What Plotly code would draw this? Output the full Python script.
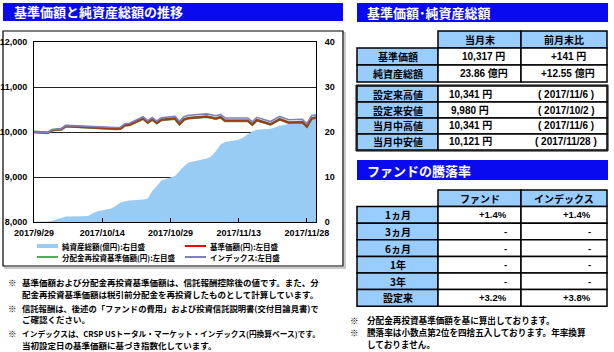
import plotly.graph_objects as go

W, H = 614, 352
def X(px):
    return px / W
def Y(py):
    return 1 - py / H

# ---------------- data ----------------
dates = [
    "2017-09-29", "2017-10-02", "2017-10-03", "2017-10-04", "2017-10-05", "2017-10-06",
    "2017-10-10", "2017-10-11", "2017-10-12", "2017-10-13",
    "2017-10-16", "2017-10-17", "2017-10-18", "2017-10-19", "2017-10-20",
    "2017-10-23", "2017-10-24", "2017-10-25", "2017-10-26", "2017-10-27",
    "2017-10-30", "2017-10-31", "2017-11-01", "2017-11-02",
    "2017-11-06", "2017-11-07", "2017-11-08", "2017-11-09", "2017-11-10",
    "2017-11-13", "2017-11-14", "2017-11-15", "2017-11-16", "2017-11-17",
    "2017-11-20", "2017-11-21", "2017-11-22", "2017-11-24",
    "2017-11-27", "2017-11-28", "2017-11-29", "2017-11-30",
]
nav = [
    10000, 9980, 10040, 10050, 10060, 10130,
    10110, 10095, 10100, 10080,
    10065, 10070, 10075, 10150, 10160,
    10300, 10210, 10280, 10200, 10270,
    10300, 10176, 10280, 10310,
    10341, 10315, 10300, 10330, 10250,
    10250, 10255, 10250, 10165, 10265,
    10170, 10230, 10285, 10210,
    10220, 10121, 10300, 10317,
]
nav_reinvested = [
    10000, 9980, 10040, 10050, 10060, 10130,
    10110, 10095, 10100, 10080,
    10065, 10070, 10075, 10150, 10160,
    10300, 10210, 10280, 10200, 10270,
    10300, 10176, 10280, 10310,
    10341, 10315, 10300, 10330, 10250,
    10250, 10255, 10250, 10165, 10265,
    10170, 10230, 10285, 10210,
    10220, 10121, 10300, 10317,
]
index_vals = [
    10000, 9986, 10050, 10062, 10074, 10148,
    10130, 10117, 10124, 10106,
    10093, 10100, 10107, 10184, 10196,
    10338, 10250, 10322, 10244, 10316,
    10348, 10237, 10341, 10372,
    10403, 10377, 10362, 10392, 10312,
    10312, 10317, 10312, 10227, 10327,
    10232, 10292, 10347, 10272,
    10282, 10183, 10362, 10380,
]
net_assets = [
    0.05, 0.1, 0.3, 0.6, 0.9, 1.2,
    1.3, 1.4, 2.0, 2.4,
    3.0, 3.6, 4.3, 4.6, 4.8,
    5.0, 5.2, 6.9, 8.0, 9.2,
    10.2, 11.31, 12.4, 13.2,
    14.1, 14.6, 15.8, 17.2, 17.8,
    18.3, 18.8, 19.5, 20.1, 20.5,
    20.7, 21.0, 21.4, 21.8,
    22.1, 22.3, 22.9, 23.86,
]

x_tick_vals = ["2017-09-29", "2017-10-14", "2017-10-29", "2017-11-13", "2017-11-28"]
x_tick_text = ["2017/9/29", "2017/10/14", "2017/10/29", "2017/11/13", "2017/11/28"]
left_ticks = [8000, 9000, 10000, 11000, 12000]
right_ticks = [0, 10, 20, 30, 40]

legend_labels = ["純資産総額(億円):右目盛", "基準価額(円):左目盛",
                 "分配金再投資基準価額(円):左目盛", "インデックス:左目盛"]

chart_title = "基準価額と純資産総額の推移"
table1_title = "基準価額･純資産総額"
table2_title = "ファンドの騰落率"

summary_header = ["当月末", "前月末比"]
summary_labels = ["基準価額", "純資産総額"]
summary_current = ["10,317 円", "23.86 億円"]
summary_change = ["+141 円", "+12.55 億円"]

extreme_labels = ["設定来高値", "設定来安値", "当月中高値", "当月中安値"]
extreme_values = ["10,341 円", "9,980 円", "10,341 円", "10,121 円"]
extreme_dates = ["( 2017/11/6 )", "( 2017/10/2 )", "( 2017/11/6 )", "( 2017/11/28 )"]

perf_header = ["ファンド", "インデックス"]
perf_periods = ["1ヵ月", "3ヵ月", "6ヵ月", "1年", "3年", "設定来"]
perf_fund = ["+1.4%", "-", "-", "-", "-", "+3.2%"]
perf_index = ["+1.4%", "-", "-", "-", "-", "+3.8%"]

left_notes = [
    ["基準価額および分配金再投資基準価額は、信託報酬控除後の値です。また、分",
     "配金再投資基準価額は税引前分配金を再投資したものとして計算しています。"],
    ["信託報酬は、後述の「ファンドの費用」および投資信託説明書(交付目論見書)で",
     "ご確認ください。"],
    ["インデックスは、CRSP USトータル・マーケット・インデックス(円換算ベース)です。",
     "当初設定日の基準価額に基づき指数化しています。"],
]
right_notes = [
    ["分配金再投資基準価額を基に算出しております。"],
    ["騰落率は小数点第2位を四捨五入しております。年率換算",
     "しておりません。"],
]

# ---------------- styles ----------------
FONT = "Liberation Sans, Noto Sans CJK JP"
JFONT = "Noto Sans CJK JP"
BLUE = "#0A0AF0"
CELL_BLUE = "#99CCFF"
AREA = "#99CCF5"
RED = "#FF0000"
GREEN = "#55A855"
PURPLE = "#7F7FC0"

fig = go.Figure()
fig.add_trace(go.Scatter(x=dates, y=net_assets, yaxis="y", mode="none", fill="tozeroy",
                         fillcolor=AREA, name=legend_labels[0], showlegend=False,
                         hoverinfo="skip"))
fig.add_trace(go.Scatter(x=dates, y=nav_reinvested, yaxis="y2", mode="lines",
                         line=dict(color=GREEN, width=2.8), name=legend_labels[2],
                         showlegend=False))
fig.add_trace(go.Scatter(x=dates, y=nav, yaxis="y2", mode="lines",
                         line=dict(color="#9A3E1C", width=2.2), name=legend_labels[1],
                         showlegend=False))
fig.add_trace(go.Scatter(x=dates, y=index_vals, yaxis="y2", mode="lines",
                         line=dict(color=PURPLE, width=1.6), name=legend_labels[3],
                         showlegend=False))

shapes = []
annotations = []

def rect(x0, y0, x1, y1, fill=None, lc="black", lw=1.5, layer="below"):
    shapes.append(dict(type="rect", xref="paper", yref="paper",
                       x0=X(x0), x1=X(x1), y0=Y(y1), y1=Y(y0),
                       fillcolor=fill if fill else "rgba(0,0,0,0)",
                       line=dict(color=lc, width=lw), layer=layer))

def text(x, y, s, size=10, color="black", anchor="center", bold=True, family=FONT):
    annotations.append(dict(xref="paper", yref="paper", x=X(x), y=Y(y), text=s,
                            showarrow=False, xanchor=anchor, yanchor="middle",
                            borderpad=0,
                            font=dict(size=size, color=color, family=family,
                                      weight="bold" if bold else "normal")))

# title bars
rect(3, 3, 343, 21, fill=BLUE, lw=0)
text(13, 12, chart_title, size=13, color="white", anchor="left", family=JFONT)
rect(357, 3, 608, 22, fill=BLUE, lw=0)
text(366, 12.5, table1_title, size=13, color="white", anchor="left", family=JFONT)
rect(357, 160, 608, 180, fill=BLUE, lw=0)
text(366, 170, table2_title, size=13, color="white", anchor="left", family=JFONT)

# chart frame
rect(5, 33, 345, 268, lc="#BBBBBB", lw=1.5)
rect(3, 31, 343, 266, fill="white", lc="black", lw=1.2)

# legend
lg_rows = [246, 257]
lg_cols = [37, 185]
shapes.append(dict(type="rect", xref="paper", yref="paper", x0=X(37), x1=X(58),
                   y0=Y(248), y1=Y(244), fillcolor=AREA, line=dict(width=0)))
for (col, row, colr) in [(1, 0, RED), (0, 1, GREEN), (1, 1, PURPLE)]:
    shapes.append(dict(type="line", xref="paper", yref="paper",
                       x0=X(lg_cols[col]), x1=X(lg_cols[col] + 21),
                       y0=Y(lg_rows[row]), y1=Y(lg_rows[row]),
                       line=dict(color=colr, width=2)))
for i, lab in enumerate(legend_labels):
    col, row = i % 2, i // 2
    text(lg_cols[col] + 24, lg_rows[row], lab, size=7.5, anchor="left", family=JFONT)

# table 1
c0, c1, c2, c3 = 357, 438, 521, 607
rh = 17
hdr_top = 31
for j, h in enumerate(summary_header):
    xa, xb = [(c1, c2), (c2, c3)][j]
    rect(xa, hdr_top, xb, hdr_top + rh, fill=CELL_BLUE)
    text((xa + xb) / 2, hdr_top + rh / 2, h, size=10, family=JFONT)
for i, lab in enumerate(summary_labels):
    y0 = hdr_top + rh * (i + 1)
    rect(c0, y0, c1, y0 + rh, fill=CELL_BLUE)
    rect(c1, y0, c2, y0 + rh, fill="white")
    rect(c2, y0, c3, y0 + rh, fill="white")
    text((c0 + c1) / 2, y0 + rh / 2, lab, size=10, family=JFONT)
    text((c1 + c2) / 2 + 4, y0 + rh / 2, summary_current[i], size=10)
    text((c2 + c3) / 2 + 4, y0 + rh / 2, summary_change[i], size=10)

ext_top = 86
erh = 16
rect(c0 - 1, ext_top - 1, c3 + 1, ext_top + erh * 4 + 1, lc="black", lw=1)
for i, lab in enumerate(extreme_labels):
    y0 = ext_top + erh * i
    rect(c0, y0, c1, y0 + erh, fill=CELL_BLUE)
    rect(c1, y0, c3, y0 + erh, fill="white")
    text((c0 + c1) / 2, y0 + erh / 2, lab, size=10, family=JFONT)
    text(470, y0 + erh / 2, extreme_values[i], size=10)
    text(566, y0 + erh / 2, extreme_dates[i], size=10)

# table 2
p_top = 190
prh = 16.6
for j, h in enumerate(perf_header):
    xa, xb = [(c1, c2), (c2, c3)][j]
    rect(xa, p_top, xb, p_top + prh, fill=CELL_BLUE)
    text((xa + xb) / 2, p_top + prh / 2, h, size=10, family=JFONT)
for i, lab in enumerate(perf_periods):
    y0 = p_top + prh * (i + 1)
    rect(c0, y0, c1, y0 + prh, fill=CELL_BLUE)
    rect(c1, y0, c2, y0 + prh, fill="white")
    rect(c2, y0, c3, y0 + prh, fill="white")
    text((c0 + c1) / 2, y0 + prh / 2, lab, size=10, family=JFONT)
    text(c2 - 13, y0 + prh / 2, perf_fund[i], size=9.5, anchor="right")
    text(c3 - 15, y0 + prh / 2, perf_index[i], size=9.5, anchor="right")

# notes
note_sizes = [[8.5, 8.5], [8.3, 8.5], [7.7, 8.5]]
y = 282
for n, note in enumerate(left_notes):
    text(7, y, "※", size=8.5, anchor="left", family=JFONT)
    for k, line in enumerate(note):
        text(21, y, line, size=note_sizes[n][k], anchor="left", family=JFONT)
        y += 11.5
    y += 2.5
y = 320
for note in right_notes:
    text(349, y, "※", size=8.5, anchor="left", family=JFONT)
    for line in note:
        text(366, y, line, size=8.6, anchor="left", family=JFONT)
        y += 12.2

tickfont = dict(size=9, family="Liberation Sans", color="black", weight="bold")
fig.update_layout(
    width=W, height=H,
    margin=dict(l=0, r=0, t=0, b=0, autoexpand=False),
    paper_bgcolor="white", plot_bgcolor="white",
    showlegend=False,
    xaxis=dict(domain=[X(34), X(316)], type="date", automargin=False,
               range=["2017-09-29", "2017-11-30"],
               tickmode="array", tickvals=x_tick_vals, ticktext=x_tick_text,
               ticks="inside", ticklen=4, tickcolor="black",
               ticklabelstandoff=2,
               showline=True, linecolor="black", linewidth=1, mirror=True,
               showgrid=False, zeroline=False, tickfont=tickfont),
    yaxis=dict(domain=[Y(222), Y(42)], side="right", range=[0, 40], automargin=False,
               tickmode="array", tickvals=right_ticks,
               showgrid=True, gridcolor="#222222", gridwidth=1,
               showline=True, linecolor="black", linewidth=1,
               ticklabelstandoff=6,
               zeroline=False, ticks="", tickfont=tickfont),
    yaxis2=dict(overlaying="y", side="left", range=[8000, 12000], automargin=False,
                tickmode="array", tickvals=left_ticks, tickformat=",d",
                showgrid=False, showline=True, linecolor="black", linewidth=1,
                ticklabelstandoff=4,
                zeroline=False, ticks="", tickfont=tickfont),
    shapes=shapes,
    annotations=annotations,
)

fig.write_html("out.html")
